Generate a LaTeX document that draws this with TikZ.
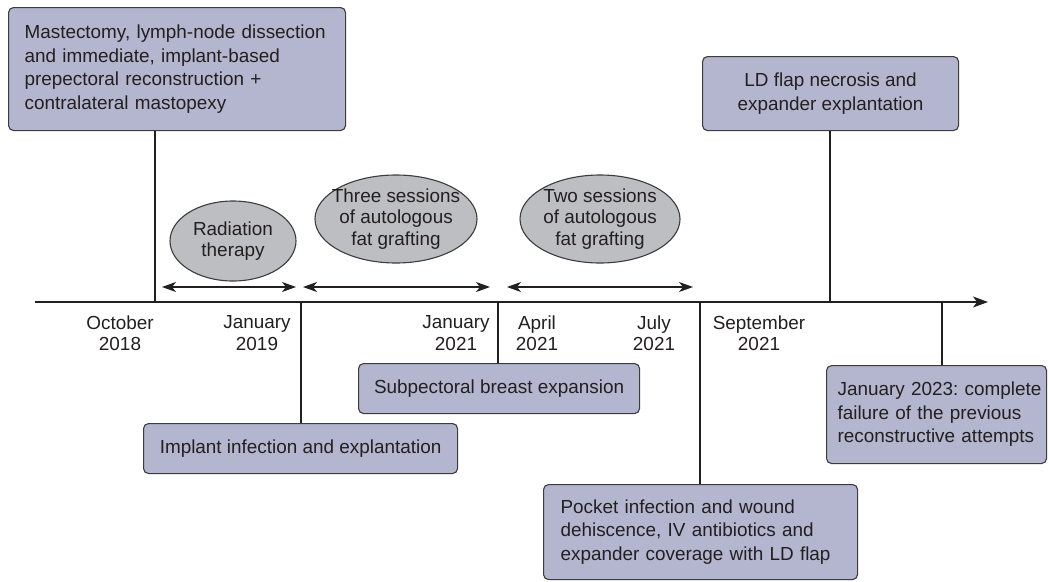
\documentclass[tikz,border=0pt]{standalone}
\usepackage{fontspec}
\setmainfont{Liberation Sans}
\usetikzlibrary{arrows.meta,shapes.geometric}
\definecolor{boxfill}{HTML}{B4B6CF}
\definecolor{ellfill}{HTML}{BDBEC1}
\definecolor{edge}{HTML}{3C3C3C}
\definecolor{ink}{HTML}{231F20}
\frenchspacing
\begin{document}
\begin{tikzpicture}[x=1pt,y=-1pt,
  evbox/.style={draw=edge, fill=boxfill, rounded corners=5pt, line width=1.1pt, text=ink,
    font=\fontsize{18.9}{23.5}\selectfont\frenchspacing, inner ysep=0pt, anchor=north west},
  evell/.style={ellipse, draw=edge, fill=ellfill, line width=1.1pt, inner sep=0pt},
  txt/.style={text=ink, align=center, font=\fontsize{18.9}{21.5}\selectfont, inner sep=0pt},
  link/.style={draw=ink, line width=1.2pt},
  tipa/.tip={Stealth[length=14pt,width=10pt,inset=4pt]},
  span/.style={draw=ink, line width=1.2pt, tipa-tipa},
]
\useasboundingbox (0,0) rectangle (1049,581);

% event boxes
\node[evbox, align=left, text width=305pt, inner xsep=16pt, minimum height=123pt] (mast) at (8,7)
  {Mastectomy, lymph-node dissection\\and immediate, implant-based\\prepectoral reconstruction +\\contralateral mastopexy};
\node[evbox, align=center, minimum width=256pt, minimum height=74pt] (ld) at (702,56)
  {LD flap necrosis and\\expander explantation};
\node[evbox, align=center, minimum width=281pt, minimum height=50pt] (sub) at (358,363)
  {Subpectoral breast expansion};
\node[evbox, align=center, minimum width=314pt, minimum height=50pt] (impl) at (143,423)
  {Implant infection and explantation};
\node[evbox, align=left, text width=280pt, inner xsep=17pt, minimum height=95pt] (pocket) at (543,484)
  {Pocket infection and wound\\dehiscence, IV antibiotics and\\expander coverage with LD flap};
\node[evbox, align=left, text width=198pt, inner xsep=11pt, minimum height=98pt] (jan23) at (826,365)
  {\mbox{January 2023: complete}\\\mbox{failure of the previous}\\\mbox{reconstructive attempts}};

% ellipses
\node[evell, minimum width=126pt, minimum height=80pt,
  label={[txt]center:Radiation\\therapy}] (rad) at (233,241) {};
\node[evell, minimum width=162pt, minimum height=88pt,
  label={[txt]center:Three sessions\\of autologous\\fat grafting}] (three) at (396,219) {};
\node[evell, minimum width=160pt, minimum height=88pt,
  label={[txt]center:Two sessions\\of autologous\\fat grafting}] (two) at (600,219) {};

% axis
\coordinate (axL) at (35,302);
\coordinate (axR) at (988,302);
\draw[link, -{Stealth[length=15pt,width=11pt,inset=4pt]}] (axL) -- (axR);

% ticks
\coordinate (tOct) at (155,302);
\coordinate (tJan19) at (301,302);
\coordinate (tJan21) at (498,302);
\coordinate (tJul) at (700,302);
\coordinate (tLD) at (830,302);
\coordinate (tJan23) at (942,302);

\draw[link] (mast.south -| tOct) -- (tOct);
\draw[link] (tJan19) -- (impl.north -| tJan19);
\draw[link] (tJan21) -- (sub.north -| tJan21);
\draw[link] (tJul) -- (pocket.north -| tJul);
\draw[link] (ld.south -| tLD) -- (tLD);
\draw[link] (tJan23) -- (jan23.north -| tJan23);

% spans
\coordinate (s1a) at (162,287); \coordinate (s1b) at (296,287);
\coordinate (s2a) at (303,287); \coordinate (s2b) at (490,287);
\coordinate (s3a) at (507,287); \coordinate (s3b) at (693,287);
\draw[span] (s1a) -- (s1b);
\draw[span] (s2a) -- (s2b);
\draw[span] (s3a) -- (s3b);

% date labels
\node[txt] (oct) at (120,333) {October\\2018};
\node[txt] (jan19) at (257,333) {January\\2019};
\node[txt] (jan21) at (456,333) {January\\2021};
\node[txt] (apr) at (537,333) {April\\2021};
\node[txt] (jul) at (654,333) {July\\2021};
\node[txt] (sep) at (759,333) {September\\2021};
\end{tikzpicture}
\end{document}
